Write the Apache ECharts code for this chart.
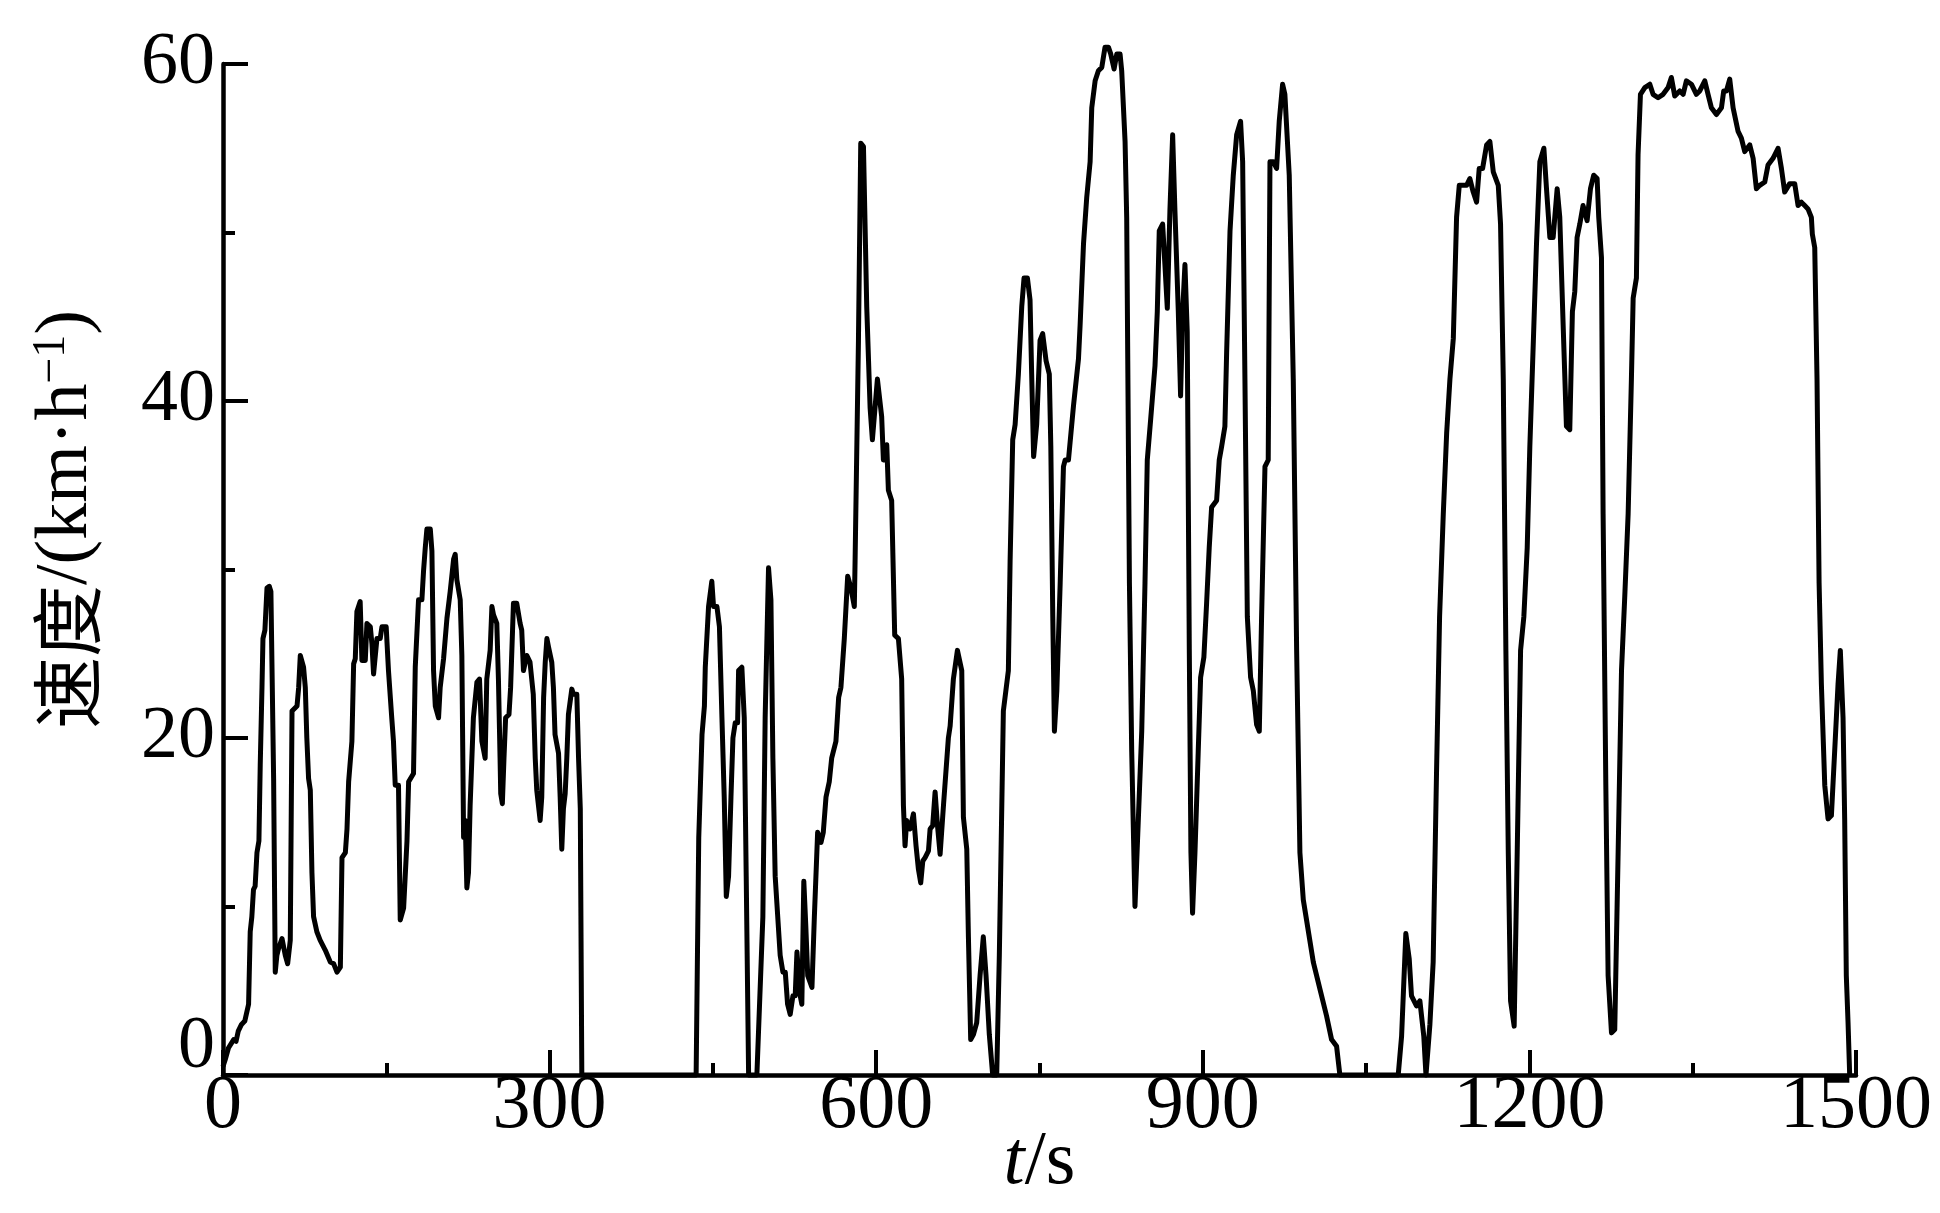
<!DOCTYPE html>
<html>
<head>
<meta charset="utf-8">
<script src="https://cdn.jsdelivr.net/npm/echarts@6/dist/echarts.min.js"></script>
<style>
html,body{margin:0;padding:0;background:#fff;}
#chart{width:1940px;height:1213px;}
</style>
</head>
<body>
<div id="chart"></div>
<script>
// time (s) / speed (km/h) samples
const speedSamples = [
[0,0.5],[2,0.9],[5,1.6],[9.8,2.1],[12,2.0],[14,2.6],[17,3.0],[20,3.2],[23.5,4.2],[25,8.5],[26.5,9.4],[28,11],[29.5,11.2],[31.2,13.2],[33,13.9],[34.2,18.4],[35.8,23],[36.7,25.9],[38.5,26.4],[40.4,28.9],[42.5,29],[44,28.7],[46.5,17.6],[48,6.1],[49.5,7.1],[51,7.5],[54.2,8.1],[57.2,7.1],[59.4,6.6],[61.8,8],[63.4,21.6],[68,21.9],[69.5,23],[71,24.9],[74,24.2],[75.6,23],[77,20],[78.6,17.6],[80.2,16.9],[81.7,12],[83.2,9.4],[86.2,8.5],[89.2,8],[94,7.4],[98.6,6.7],[101.7,6.6],[104.7,6.1],[107.8,6.4],[109.3,12.9],[112.4,13.2],[113.9,14.6],[115.4,17.4],[118.4,19.8],[120,24.4],[121.5,24.7],[123,27.5],[126,28.1],[127.6,24.6],[130.7,24.6],[132.2,26.8],[135.3,26.6],[136.8,25.6],[138.3,23.8],[141.4,25.9],[144.4,25.9],[146,26.6],[149.9,26.6],[152,24],[155,21.2],[156.6,19.8],[158.2,17.2],[161.2,17.2],[162.8,9.2],[165.9,9.9],[169,13.9],[170.5,17.4],[175,17.9],[176.6,24.2],[179.6,28.2],[182.7,28.2],[184.2,29.9],[185.8,31.3],[187.3,32.4],[190.4,32.4],[191.9,31.1],[193.4,24],[195,21.9],[198,21.2],[199.5,23],[202.6,24.7],[205.7,27.1],[208.7,28.7],[211.8,30.6],[213.3,30.9],[214.8,29.4],[217.9,28.2],[219.4,24.9],[221,14.1],[222.5,15.1],[224,11.1],[225.5,12],[227,16],[230,21.2],[233.2,23.3],[235.6,23.5],[237.8,19.8],[240.8,18.8],[242.3,23.5],[245.4,25.2],[247,27.8],[248.5,27.3],[251.5,26.8],[253,23.5],[254.5,18.8],[255.1,16.7],[256.6,16.1],[258.1,18.8],[259.6,21.2],[262.7,21.4],[264.2,23],[266.8,28],[269.8,28],[272.9,26.8],[274.4,26.4],[276,24],[277.5,24],[279,24.9],[282,24.5],[285,22.6],[286.8,18.8],[288.2,16.9],[291.3,15.1],[292.8,16.5],[294.5,22.4],[296,24.5],[297.5,25.9],[299,25.4],[302,24.5],[303.5,23],[305,20.2],[308.2,19.1],[309.7,16.5],[311.2,13.4],[312.7,15.8],[314.3,16.7],[315.8,18.8],[317.3,21.4],[320.4,22.9],[321.9,22.6],[325,22.6],[326.6,18.8],[328.2,15.8],[329.6,0],
[434.6,0],[437,14.1],[440,20.2],[442.2,21.9],[443,24.2],[446,27.8],[449,29.3],[450.6,27.8],[453.7,27.8],[456,26.6],[458.3,21.2],[460.4,16.5],[462.3,10.6],[464.4,11.8],[466.6,16.5],[468.4,20],[470.5,20.9],[472.7,20.9],[473.6,24],[476.6,24.2],[478.8,21.2],[480.6,11.8],[482.8,0],[490.4,0],[495.9,9.4],[498,21.2],[501.1,30.1],[503.3,28.2],[505.1,18.8],[507.2,11.8],[511.8,7.1],[514.3,6.1],[516.5,6.1],[518.6,4.2],[521,3.6],[523.5,4.7],[525.6,4.7],[527.2,7.3],[528.7,7.4],[530.2,4.7],[531.7,4.2],[533.5,11.5],[535.3,8.9],[537.1,5.9],[541,5.2],[543.2,9.4],[546.2,14.4],[549.3,13.8],[551.4,14.4],[553.9,16.5],[556.9,17.4],[559.1,18.8],[563,19.8],[565.5,22.4],[567.6,23],[570.7,25.9],[573.8,29.6],[576.8,28.9],[579.9,27.8],[580.6,30.5],[583.7,43.6],[585.8,55.3],[588.3,55.1],[591.3,45.6],[594.4,39.6],[596.5,37.7],[601.1,41.3],[605,39.1],[606.6,36.5],[609.7,37.4],[611.2,34.7],[614.2,34.1],[617,26.1],[620.4,25.9],[623.4,23.5],[625,16],[626.5,13.6],[628,15.1],[631.1,14.6],[634.2,15.5],[636.6,13.6],[638.8,12.2],[640.9,11.4],[642.8,12.7],[644.9,12.9],[648,13.3],[649.5,14.6],[651.9,14.8],[654.1,16.8],[656.3,14.8],[658.7,13.1],[661.8,16],[666.3,20],[667.9,20.7],[670.9,23.5],[674.6,25.2],[678.6,24],[680.1,15.3],[683.2,13.4],[684.7,8.2],[686.8,2.1],[689.3,2.4],[692.3,3.1],[695.4,5.9],[698.4,8.2],[700.9,5.9],[703.9,2.4],[707,0],[710.7,0],[713.1,7.1],[716.8,21.6],[721.4,24],[723,30.5],[725.4,37.7],[727.6,38.6],[730.6,41.6],[733.7,45.6],[735.8,47.3],[738.9,47.3],[741.3,46],[742.8,41.6],[744.6,36.7],[747.4,38.6],[750.5,43.6],[752.9,44],[756,42.4],[759,41.6],[760.4,37.3],[762.2,27.2],[763.7,20.4],[765.9,22.8],[769,29.2],[772,36.1],[773.6,36.5],[776.6,36.5],[781.2,39.7],[785.8,42.5],[787.3,44.5],[790.4,49.3],[793.4,52.1],[796.5,54.2],[798,57.4],[801.1,59],[804.1,59.6],[807.2,59.8],[810.2,61],[813.3,61],[815.4,60.6],[818.5,59.7],[821,60.6],[824,60.6],[825.5,59.6],[828.6,55.4],[830.1,50.9],[832.6,29.2],[834.7,19.2],[837.7,10],[840.8,15.2],[843.9,20.4],[846.9,29.2],[849,36.5],[852.1,38.9],[856.1,42.1],[858.2,45.3],[860,50.1],[863.1,50.5],[865.2,48.1],[867.4,45.5],[869.8,51.3],[872.3,55.8],[874.4,51.3],[877.5,45.3],[879.6,40.3],[881.5,45.3],[883.6,48.1],[885.7,44.1],[887.6,25.2],[889.1,13.2],[890.6,9.6],[892.8,13.2],[895.8,19.2],[898,23.6],[901,24.8],[903.5,28],[905.9,31.3],[908.1,33.7],[912.7,34.1],[915.1,36.5],[917.3,37.3],[920.3,38.5],[921.9,42.9],[925,50.1],[928,53.4],[931.1,55.8],[934.7,56.6],[936.6,54.2],[938.7,41.3],[940.9,27.2],[943.9,23.6],[946.4,22.8],[949.4,20.8],[951.9,20.4],[954,27.2],[957.1,36.1],[960.1,36.5],[961.7,54.2],[964.7,54.2],[967.8,53.8],[970.2,56.6],[973.3,58.8],[975.4,58.2],[979.4,53.4],[983.1,41.3],[986.2,25.2],[989.2,13.2],[992.3,10.4],[995.3,9.2],[1001.5,6.7],[1007.6,5.1],[1013.7,3.5],[1018.3,2.1],[1022.9,1.7],[1025.9,0],
[1079.5,0],[1082.6,2.3],[1086.5,8.4],[1089.6,6.9],[1091.7,4.7],[1096.3,4.1],[1099.4,4.4],[1100.9,4.3],[1103,2.3],[1105,0],[1108.6,3],[1111.6,6.7],[1114.7,18],[1117.5,27.2],[1120.9,33.3],[1124,38.1],[1127,41.3],[1130.1,43.7],[1133.1,50.9],[1135.6,52.8],[1139.2,52.8],[1142.3,52.8],[1145.3,53.2],[1148.4,52.4],[1151.5,51.8],[1153.9,53.8],[1157,53.8],[1160.7,55.2],[1163.7,55.4],[1166.8,53.6],[1171.4,52.8],[1173.5,50.5],[1176,41.3],[1178.4,25.2],[1180.6,13.2],[1182.7,4.4],[1186,2.9],[1188.8,13.2],[1191.9,25.2],[1194.9,27.2],[1198,31.3],[1200.4,37.3],[1203.5,43.3],[1206.5,49.3],[1209.6,54.2],[1213.3,55],[1215.7,52.6],[1218.8,49.7],[1221.8,49.7],[1225.5,52.6],[1227.9,50.9],[1231,44.5],[1234,38.5],[1237.1,38.3],[1239.5,45.3],[1241.7,46.5],[1243.8,49.7],[1246.3,50.5],[1249.3,51.6],[1253,50.7],[1256.1,52.6],[1259.1,53.4],[1262.2,53.2],[1263.7,50.9],[1266.2,48.5],[1267.7,33.3],[1270.2,17.2],[1272.3,5.9],[1275.4,2.5],[1278.4,2.7],[1281.5,13.2],[1284.6,24],[1287.6,28.4],[1290.7,33.3],[1293.7,41.3],[1295.3,46.1],[1298.3,47.3],[1299.8,54.6],[1302,58.2],[1306,58.6],[1310.6,58.8],[1313.6,58.2],[1318.2,58],[1322.8,58.2],[1327.4,58.6],[1330.4,59.2],[1333.5,58.1],[1338.1,58.4],[1341.2,58.2],[1344.2,59],[1348.8,58.8],[1353.4,58.2],[1356.5,58.4],[1361.1,59],[1364.1,58.2],[1367.2,57.4],[1371.8,57],[1376.4,57.4],[1378.5,58.4],[1381,58.4],[1384,59.1],[1387.1,57.4],[1391.7,56],[1394.7,55.6],[1397.8,54.8],[1402.4,55.2],[1405.5,54.4],[1408.5,52.6],[1411.6,52.8],[1416.2,53],[1419.2,54],[1423.8,54.4],[1428.4,55],[1431.5,53.8],[1434.5,52.4],[1439.1,52.9],[1443.7,52.9],[1446.8,51.6],[1449.8,51.8],[1452.9,51.6],[1455.9,51.4],[1459,50.9],[1459.9,49.9],[1462.1,49.1],[1464.2,41.3],[1466.1,29.2],[1468.2,23.2],[1471.3,17.2],[1474.3,15.2],[1477.4,15.4],[1480.4,19.2],[1483.5,23.2],[1485.6,25.2],[1488.1,21.2],[1489.6,15.2],[1491.1,5.9],[1492.7,3.1],[1494.2,0]
];
const xTicks = [0, 300, 600, 900, 1200, 1500];
const yTicks = [0, 20, 40, 60];
const xAxisName = '{i|t}{n|/s}';
const yAxisName = '{zh|速度}{lt|/(km·h}{sup|−1}{lt|)}';

const chart = echarts.init(document.getElementById('chart'), null, {renderer: 'canvas'});
const serif = '"Liberation Serif", "Times New Roman", serif';
const axisCommon = {
  axisLine: {show: true, onZero: false, lineStyle: {color: '#000', width: 4.5}},
  axisTick: {show: true, inside: true, length: 25, lineStyle: {color: '#000', width: 4}},
  minorTick: {show: true, splitNumber: 2, length: 12, lineStyle: {color: '#000', width: 4}},
  splitLine: {show: false},
  minorSplitLine: {show: false}
};
chart.setOption({
  backgroundColor: '#fff',
  animation: false,
  grid: {left: 223, right: 84, top: 64, bottom: 138, containLabel: false, outerBoundsMode: 'none'},
  xAxis: Object.assign({}, axisCommon, {
    type: 'value',
    min: xTicks[0], max: xTicks[xTicks.length - 1],
    interval: xTicks[1] - xTicks[0],
    name: xAxisName,
    nameLocation: 'middle',
    nameGap: 50,
    nameMoveOverlap: false,
    nameTextStyle: {
      rich: {
        i: {fontFamily: serif, fontStyle: 'italic', fontSize: 76, color: '#000'},
        n: {fontFamily: serif, fontSize: 76, color: '#000'}
      }
    },
    axisLabel: {
      show: true, margin: -6, color: '#000', fontFamily: serif, fontSize: 76,
      formatter: function (v) { return String(v); }
    }
  }),
  yAxis: Object.assign({}, axisCommon, {
    type: 'value',
    min: yTicks[0], max: yTicks[yTicks.length - 1],
    interval: yTicks[1] - yTicks[0],
    name: yAxisName,
    nameLocation: 'middle',
    nameGap: 118,
    nameMoveOverlap: false,
    nameTextStyle: {
      padding: [0, 0, 0, 100],
      rich: {
        zh: {fontFamily: '"Noto Sans CJK SC"', fontSize: 72, color: '#000'},
        lt: {fontFamily: serif, fontSize: 74, color: '#000'},
        sup: {fontFamily: serif, fontSize: 46, color: '#000', verticalAlign: 'top', padding: [0, 0, 30, 0]}
      }
    },
    axisLabel: {
      show: true, margin: 8, color: '#000', fontFamily: serif, fontSize: 74,
      verticalAlignMinLabel: 'bottom',
      formatter: function (v) { return v === yTicks[0] ? '{m|' + v + '}' : String(v); },
      rich: {
        m: {fontFamily: serif, fontSize: 74, color: '#000', lineHeight: 55}
      }
    }
  }),
  series: [{
    type: 'line',
    data: speedSamples,
    showSymbol: false,
    symbol: 'none',
    clip: false,
    lineStyle: {color: '#000', width: 5, join: 'round'}
  }]
});
</script>
</body>
</html>
